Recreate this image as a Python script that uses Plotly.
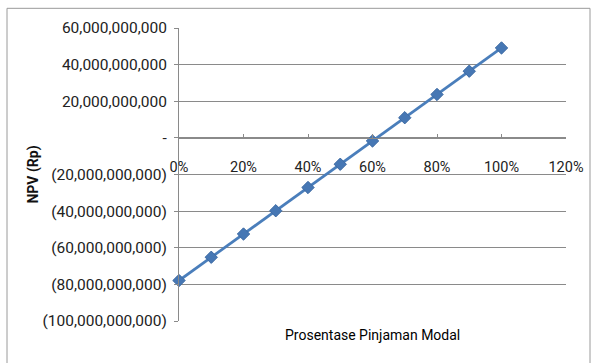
import plotly.graph_objects as go

# Data
pinjaman_pct = [0, 10, 20, 30, 40, 50, 60, 70, 80, 90, 100]
npv_rp = [-77.9e9, -65.2e9, -52.5e9, -39.8e9, -27.1e9, -14.4e9, -1.7e9, 11.0e9, 23.7e9, 36.4e9, 49.1e9]

y_tickvals = [60e9, 40e9, 20e9, 0, -20e9, -40e9, -60e9, -80e9, -100e9]
y_ticktext = ["60,000,000,000", "40,000,000,000", "20,000,000,000", "-",
              "(20,000,000,000)", "(40,000,000,000)", "(60,000,000,000)",
              "(80,000,000,000)", "(100,000,000,000)"]
x_tickvals = [0, 20, 40, 60, 80, 100, 120]
x_ticktext = ["0%", "20%", "40%", "60%", "80%", "100%", "120%"]

x_title = "Prosentase Pinjaman Modal"
y_title = "NPV (Rp)"

FONT = "Roboto, 'Open Sans', sans-serif"
GRID = "#8a8a8a"
BLUE = "#4a7ebb"

fig = go.Figure()
fig.add_trace(go.Scatter(
    x=pinjaman_pct, y=npv_rp, mode="lines+markers",
    line=dict(color=BLUE, width=2.75),
    marker=dict(symbol="diamond", size=9.5, color="#4677b4",
                line=dict(color="#3d6aa3", width=1)),
    showlegend=False, cliponaxis=False,
))

ymin, ymax = -100e9, 60e9
zero_pos = (0 - ymin) / (ymax - ymin)

fig.update_layout(
    width=595, height=363,
    margin=dict(l=179, r=29, t=28, b=42),
    paper_bgcolor="white", plot_bgcolor="white",
    font=dict(family=FONT, color="#222222"),
    xaxis=dict(
        range=[0, 120], tickvals=x_tickvals, ticktext=x_ticktext,
        anchor="free", position=zero_pos, side="bottom",
        showgrid=False, zeroline=False,
        showline=True, linecolor=GRID, linewidth=1,
        ticks="inside", ticklen=4, tickcolor=GRID,
        tickfont=dict(size=14.5, family=FONT, color="#222222"),
        ticklabelstandoff=16,
    ),
    yaxis=dict(
        range=[ymin, ymax], tickvals=y_tickvals, ticktext=y_ticktext,
        domain=[0, 1],
        showgrid=True, gridcolor=GRID, gridwidth=1, zeroline=False,
        showline=True, linecolor=GRID, linewidth=1,
        ticks="outside", ticklen=4, tickcolor=GRID,
        tickfont=dict(size=15.5, family=FONT, color="#222222"),
        ticklabelstandoff=4,
        title=dict(text=y_title, font=dict(size=14, family=FONT, color="#111111", weight="bold"),
                   standoff=0),
        automargin=False,
    ),
    annotations=[dict(
        text=x_title, xref="paper", yref="paper", x=0.5, y=(321 - 335) / 293.3,
        xanchor="center", yanchor="middle", showarrow=False,
        font=dict(size=14, family=FONT, color="#000000"),
    )],
    shapes=[dict(
        type="rect", xref="paper", yref="paper",
        x0=(7 - 179) / 387, x1=(590 - 179) / 387,
        y0=(321 - 366) / 293.3, y1=(321 - 8) / 293.3,
        line=dict(color="#9a9a9a", width=1), fillcolor="rgba(0,0,0,0)", layer="below",
    )],
)

fig.write_html("out.html")
